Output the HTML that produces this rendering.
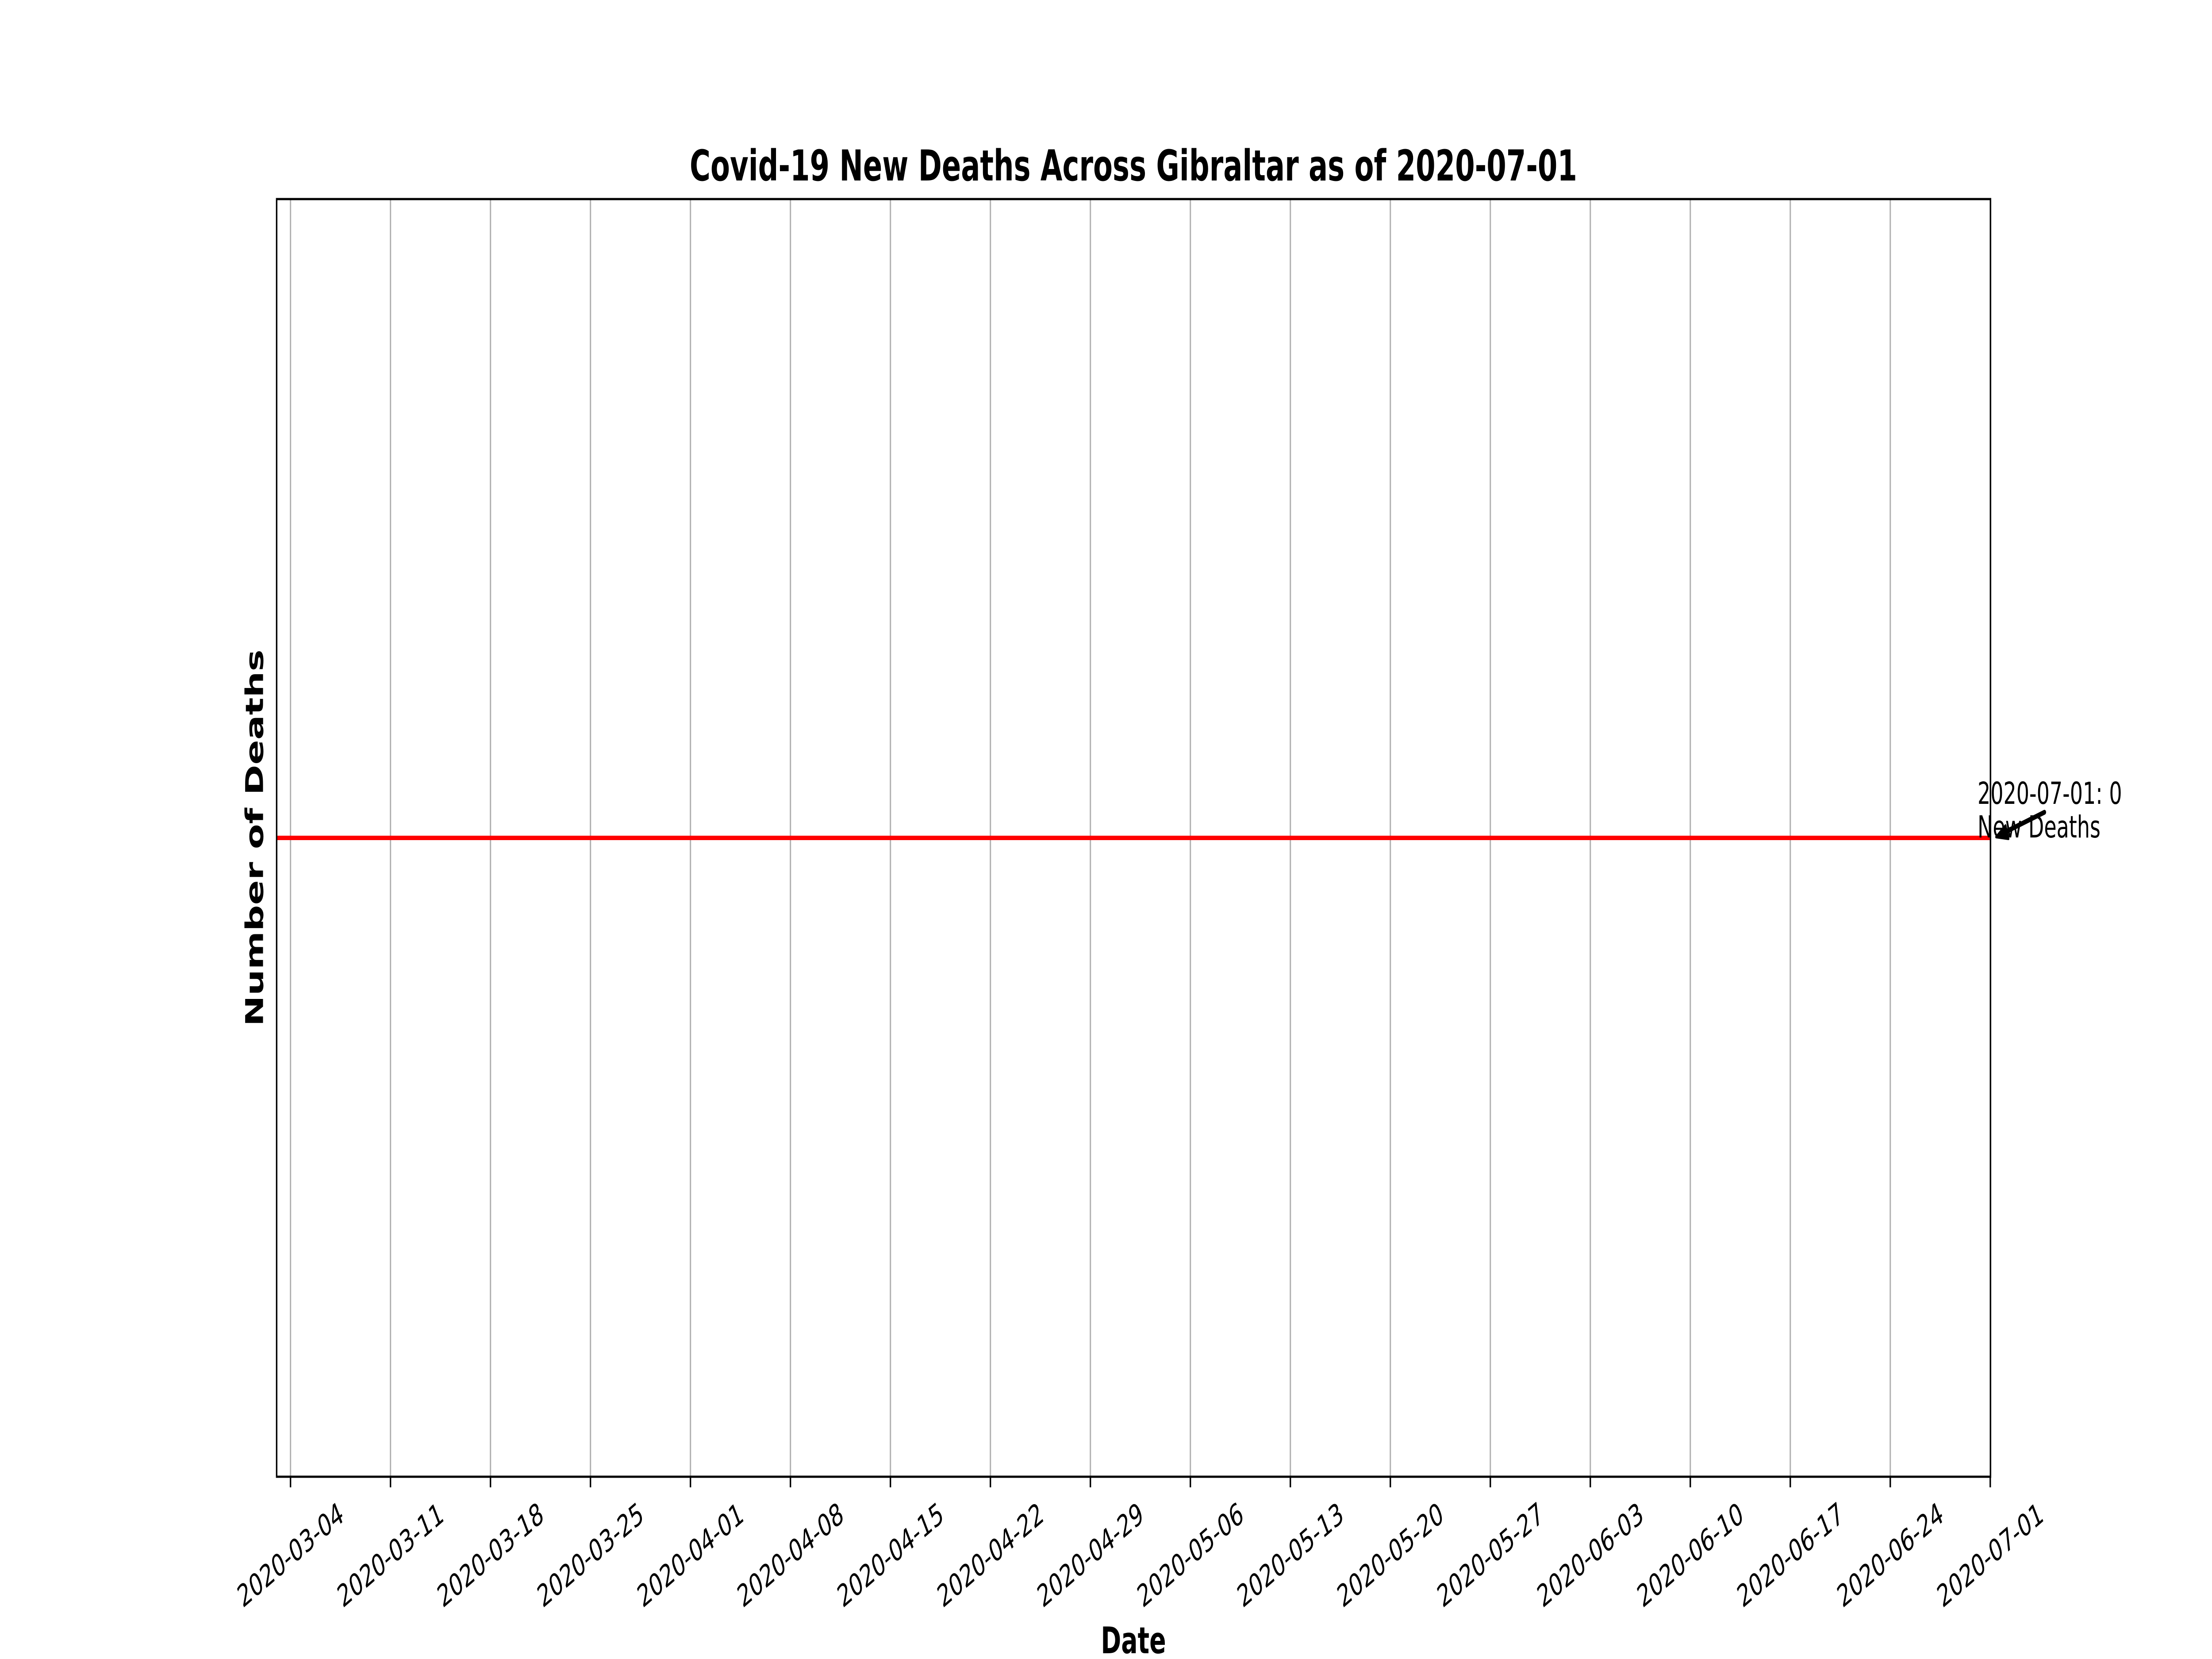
<!DOCTYPE html>
<html><head><meta charset="utf-8"><style>
html,body{margin:0;padding:0;background:#fff;width:100%;height:100%;overflow:hidden;}
svg{display:block;width:100vw;height:100vh;font-family:"DejaVu Sans","Liberation Sans",sans-serif;}
</style></head><body>
<svg id="chart" viewBox="0 0 7500 3750" preserveAspectRatio="none" xmlns="http://www.w3.org/2000/svg">
<rect x="0" y="0" width="7500" height="3750" fill="#fff"/>
<g id="grid"></g>
<g id="series"></g>
<rect x="938" y="450" width="5811" height="2888" fill="none" stroke="#000" stroke-width="5"/>
<g id="ticks"></g>
<text x="3843" y="408" text-anchor="middle" font-size="96" font-weight="bold">Covid-19 New Deaths Across Gibraltar as of 2020-07-01</text>
<text x="3843" y="3737" text-anchor="middle" font-size="83" font-weight="bold">Date</text>
<text transform="translate(892,1894) rotate(-90)" text-anchor="middle" font-size="83" font-weight="bold">Number of Deaths</text>
<g id="annot">
<text x="6705" y="1817" font-size="69">2020-07-01: 0</text>
<text x="6705" y="1893" font-size="69">New Deaths</text>
<line x1="6932" y1="1836" x2="6795" y2="1882" stroke="#000" stroke-width="11" stroke-linecap="round"/>
<polygon points="6768,1892 6800,1866 6810,1896" fill="#000" stroke="#000" stroke-width="6" stroke-linejoin="round"/>
</g>
</svg>
<script>
const startDate = "2020-03-03";
const newDeaths = [0,0,0,0,0,0,0,0,0,0,0,0,0,0,0,0,0,0,0,0,0,0,0,0,0,0,0,0,0,0,0,0,0,0,0,0,0,0,0,0,0,0,0,0,0,0,0,0,0,0,0,0,0,0,0,0,0,0,0,0,0,0,0,0,0,0,0,0,0,0,0,0,0,0,0,0,0,0,0,0,0,0,0,0,0,0,0,0,0,0,0,0,0,0,0,0,0,0,0,0,0,0,0,0,0,0,0,0,0,0,0,0,0,0,0,0,0,0,0,0,0];
const tickLabels = ["2020-03-04","2020-03-11","2020-03-18","2020-03-25","2020-04-01","2020-04-08","2020-04-15","2020-04-22","2020-04-29","2020-05-06","2020-05-13","2020-05-20","2020-05-27","2020-06-03","2020-06-10","2020-06-17","2020-06-24","2020-07-01"];
const yLimits = [-0.055, 0.055];

const NS = "http://www.w3.org/2000/svg";
const DAY = 86400000;
const ref = Date.UTC(2020,2,4);
const plotL = 938, plotR = 6749, plotT = 450, plotB = 3338;
function dayNum(s){const p=s.split("-");return (Date.UTC(+p[0],+p[1]-1,+p[2])-ref)/DAY;}
function xScale(s){return 985 + dayNum(s)*48.43;}
function yScale(v){return plotB - (v - yLimits[0])/(yLimits[1]-yLimits[0])*(plotB-plotT);}
function dateAt(i){const p=startDate.split("-");const d=new Date(Date.UTC(+p[0],+p[1]-1,+p[2])+i*DAY);return d.toISOString().slice(0,10);}

const grid = document.getElementById("grid");
const ticks = document.getElementById("ticks");
tickLabels.forEach(function(lbl){
  const x = xScale(lbl);
  const g = document.createElementNS(NS,"line");
  g.setAttribute("x1",x);g.setAttribute("x2",x);g.setAttribute("y1",plotT);g.setAttribute("y2",plotB);
  g.setAttribute("stroke","#b0b0b0");g.setAttribute("stroke-width","4.5");
  
  
  grid.appendChild(g);
  const t = document.createElementNS(NS,"line");
  t.setAttribute("x1",x);t.setAttribute("x2",x);t.setAttribute("y1",plotB);t.setAttribute("y2",plotB+24);
  t.setAttribute("stroke","#000");t.setAttribute("stroke-width","5");
  
  
  ticks.appendChild(t);
  const tx = document.createElementNS(NS,"text");
  tx.setAttribute("transform","translate("+x+",3515) rotate(-30)");
  tx.setAttribute("text-anchor","middle");
  tx.setAttribute("dominant-baseline","central");
  tx.setAttribute("font-size","69");
  tx.textContent = lbl;
  
  
  ticks.appendChild(tx);
});

const series = document.getElementById("series");
let pts = [];
newDeaths.forEach(function(v,i){
  let x = xScale(dateAt(i));
  x = Math.max(plotL, Math.min(plotR, x));
  pts.push(x.toFixed(1)+","+yScale(v).toFixed(1));
});
const pl = document.createElementNS(NS,"polyline");
pl.setAttribute("points",pts.join(" "));
pl.setAttribute("fill","none");pl.setAttribute("stroke","#ff0000");pl.setAttribute("stroke-width","10");


series.appendChild(pl);
</script>
</body></html>
